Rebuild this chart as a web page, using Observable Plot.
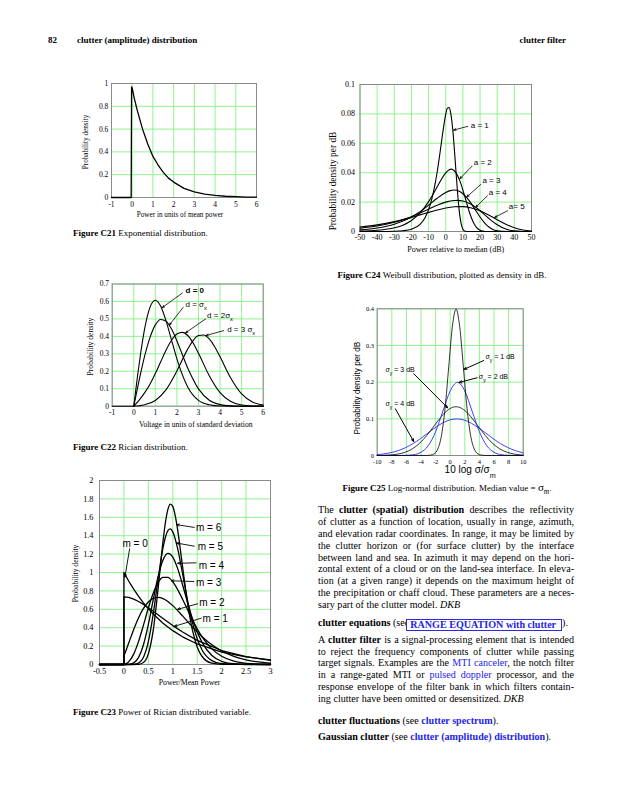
<!DOCTYPE html>
<html><head><meta charset="utf-8">
<script src="https://cdn.jsdelivr.net/npm/d3@7"></script>
<script src="https://cdn.jsdelivr.net/npm/@observablehq/plot@0.6"></script>
<style>
body{margin:0;background:#fff;}
#page{position:relative;width:617px;height:800px;overflow:hidden;font-family:"Liberation Serif","Times New Roman",serif;color:#000;background:#fff;}
.abs{position:absolute;white-space:nowrap;}
.hdr{font-weight:bold;font-size:9px;line-height:12px;}
.cap{font-size:9px;line-height:11px;}
.ln{position:absolute;left:318px;width:256px;white-space:nowrap;font-size:10.1px;line-height:12px;}
.lk{color:#2424e8;}
.chart{position:absolute;}
.box{display:inline-block;margin-left:-3px;padding:0 5px 0 3px;height:10px;line-height:10px;border:1.5px solid #2a2ae0;background:#fff;color:#2424e8;font-weight:bold;vertical-align:-2px;position:relative;}
</style></head><body><div id="page">

<div class="abs hdr" style="left:48px;top:34px">82</div>
<div class="abs hdr" style="left:77px;top:34px">clutter (amplitude) distribution</div>
<div class="abs hdr" style="right:51px;top:34px">clutter filter</div>

<div class="chart" id="c21" style="left:60px;top:70px"></div>
<div class="chart" id="c24" style="left:320px;top:70px"></div>
<div class="chart" id="c22" style="left:60px;top:270px"></div>
<div class="chart" id="c25" style="left:330px;top:295px"></div>
<div class="chart" id="c23" style="left:50px;top:470px"></div>

<div class="abs cap" style="left:73px;top:228px"><b>Figure C21</b> Exponential distribution.</div>
<div class="abs cap" style="left:442px;top:270px;transform:translateX(-50%)"><b>Figure C24</b> Weibull distribution, plotted as density in dB.</div>
<div class="abs cap" style="left:73px;top:441.5px"><b>Figure C22</b> Rician distribution.</div>
<div class="abs cap" style="left:447px;top:482px;transform:translateX(-50%)"><b>Figure C25</b> Log-normal distribution. Median value = <span style="font-size:11px">σ<sub style="font-size:7.5px;font-style:italic">m</sub></span>.</div>
<div class="abs cap" style="left:73px;top:706.5px"><b>Figure C23</b> Power of Rician distributed variable.</div>

<div class="ln j" style="top:504px"><span>The <b>clutter (spatial) distribution</b> describes the reflectivity</span></div>
<div class="ln j" style="top:516px"><span>of clutter as a function of location, usually in range, azimuth,</span></div>
<div class="ln j" style="top:528px"><span>and elevation radar coordinates. In range, it may be limited by</span></div>
<div class="ln j" style="top:540px"><span>the clutter horizon or (for surface clutter) by the interface</span></div>
<div class="ln j" style="top:552px"><span>between land and sea. In azimuth it may depend on the hori-</span></div>
<div class="ln j" style="top:563px"><span>zontal extent of a cloud or on the land-sea interface. In eleva-</span></div>
<div class="ln j" style="top:575px"><span>tion (at a given range) it depends on the maximum height of</span></div>
<div class="ln j" style="top:587px"><span>the precipitation or chaff cloud. These parameters are a neces-</span></div>
<div class="ln" style="top:599px"><span>sary part of the clutter model. <i>DKB</i></span></div>
<div class="ln" style="top:617px"><span><b>clutter equations</b> (see<span class="box">RANGE EQUATION with clutter</span>).</span></div>
<div class="ln j" style="top:634px"><span>A <b>clutter filter</b> is a signal-processing element that is intended</span></div>
<div class="ln j" style="top:646px"><span>to reject the frequency components of clutter while passing</span></div>
<div class="ln j" style="top:657px"><span>target signals. Examples are the <span class="lk">MTI canceler</span>, the notch filter</span></div>
<div class="ln j" style="top:669px"><span>in a range-gated MTI or <span class="lk">pulsed doppler</span> processor, and the</span></div>
<div class="ln j" style="top:681px"><span>response envelope of the filter bank in which filters contain-</span></div>
<div class="ln" style="top:693px"><span>ing clutter have been omitted or desensitized. <i>DKB</i></span></div>
<div class="ln" style="top:715px"><span><b>clutter fluctuations</b> (see <b class="lk">clutter spectrum</b>).</span></div>
<div class="ln" style="top:731px"><span><b>Gaussian clutter</b> (see <b class="lk">clutter (amplitude) distribution</b>).</span></div>

</div>
<script>
// ---------- Figure C21: exponential ----------
const c21X = [-1, -0.05, -0.03, 0, 0.1, 0.25, 0.5, 0.75, 1, 1.25, 1.5, 1.75, 2, 2.5, 3, 3.5, 4, 4.5, 5, 5.5, 6];
const c21Y = [0, 0, 0.97, 0.96, 0.87, 0.76, 0.6, 0.47, 0.36, 0.285, 0.22, 0.17, 0.135, 0.08, 0.05, 0.03, 0.018, 0.011, 0.007, 0.004, 0.003];
const c21XTicks = [-1, 0, 1, 2, 3, 4, 5, 6];
const c21YTicks = [0, 0.2, 0.4, 0.6, 0.8, 1];

// ---------- Figure C24: Weibull in dB ----------
const w1X = [-50,-40,-30,-25,-20,-15,-12,-10,-8,-6,-5,-4,-3,-2,-1,0,1,2,3,4,5,6,7,8,9,10,11,12,14,20,30,40,50];
const w1Y = [0,0.00002,0.00016,0.0005,0.0016,0.0049,0.0096,0.0149,0.0227,0.0337,0.0405,0.0482,0.0565,0.065,0.0731,0.0798,0.084,0.0843,0.0799,0.0703,0.0564,0.0402,0.0248,0.0127,0.0052,0.0016,0.0003,0.00004,0,0,0,0,0];
const w2X = [-50,-40,-30,-25,-20,-15,-10,-8,-6,-4,-2,0,2,3.3,4,6,8,10,12,14,16,18,20,22,24,30,40,50];
const w2Y = [0.00025,0.0008,0.0025,0.0043,0.0075,0.0126,0.0203,0.0241,0.0283,0.0325,0.0366,0.0399,0.042,0.0424,0.0422,0.0399,0.0351,0.0282,0.0201,0.0124,0.0064,0.0026,0.0008,0.0002,0,0,0,0];
const w3X = [-50,-40,-30,-25,-20,-15,-10,-5,0,2.5,5,7.5,10,12.5,15,17.5,20,22.5,25,27.5,30,33,36,40,50];
const w3Y = [0.0011,0.0024,0.005,0.0071,0.0099,0.0135,0.0179,0.0226,0.0266,0.0278,0.0282,0.0276,0.0257,0.0227,0.0188,0.0143,0.0099,0.0061,0.0032,0.0014,0.0005,0.0001,0,0,0];
const w4X = [-50,-40,-30,-25,-20,-15,-10,-5,0,5,7,10,15,20,25,30,35,40,45,50];
const w4Y = [0.0022,0.0037,0.0063,0.008,0.0101,0.0126,0.0152,0.0178,0.02,0.0211,0.0212,0.0207,0.0183,0.0141,0.009,0.0046,0.0017,0.0004,0.00005,0];
const w5X = [-50,-40,-30,-25,-20,-15,-10,-5,0,5,8,10,15,20,25,30,35,40,45,50];
const w5Y = [0.003,0.0045,0.0067,0.0081,0.0096,0.0113,0.013,0.0146,0.016,0.0168,0.0169,0.0169,0.016,0.0141,0.0113,0.008,0.005,0.0025,0.001,0.0003];
const c24XTicks = [-50,-40,-30,-20,-10,0,10,20,30,40,50];
const c24YTicks = [0, 0.02, 0.04, 0.06, 0.08, 0.1];
const c24Labels = ["a = 1", "a = 2", "a = 3", "a = 4", "a= 5"];
const c24LabelX = [14.6, 16.3, 21.4, 25.1, 36.8];
const c24LabelY = [0.072, 0.047, 0.035, 0.0266, 0.0168];
const c24ArrowFrom = [[12.8, 0.0715], [15.4, 0.0445], [20.4, 0.032], [24.3, 0.0243], [36, 0.0141]];
const c24ArrowTo = [[4.6, 0.069], [8.3, 0.036], [12.3, 0.0235], [17.5, 0.0165], [28.5, 0.0096]];

// ---------- Figure C22: Rician ----------
const r0X = [-1,0,0.25,0.5,0.75,1,1.25,1.5,1.75,2,2.5,3,3.5,4,5,6];
const r0Y = [0,0,0.242,0.441,0.566,0.607,0.572,0.487,0.379,0.271,0.11,0.033,0.008,0.001,0,0];
const r1X = [-1,0,0.25,0.5,0.75,1,1.25,1.5,1.75,2,2.5,3,3.5,4,4.5,5,6];
const r1Y = [0,0,0.149,0.285,0.393,0.466,0.497,0.486,0.442,0.374,0.219,0.099,0.034,0.009,0.002,0.0003,0];
const r2X = [-1,0,0.25,0.5,0.75,1,1.25,1.5,1.75,2,2.25,2.5,2.75,3,3.5,4,4.5,5,5.5,6];
const r2Y = [0,0,0.035,0.076,0.126,0.187,0.255,0.322,0.378,0.414,0.423,0.405,0.362,0.303,0.175,0.078,0.027,0.007,0.0015,0.0002];
const r3X = [-1,0,0.25,0.5,1,1.5,2,2.5,2.75,3,3.25,3.5,3.75,4,4.5,5,5.5,6];
const r3Y = [0,0,0.003,0.008,0.033,0.095,0.202,0.327,0.376,0.405,0.408,0.385,0.341,0.283,0.16,0.07,0.024,0.006];
const c22XTicks = [-1,0,1,2,3,4,5,6];
const c22YTicks = [0,0.1,0.2,0.3,0.4,0.5,0.6,0.7];
const c22Labels = ["d = 0", "d = σ_x", "d = 2σ_x", "d = 3 σ_x"];
const c22LabelX = [2.40, 2.40, 3.40, 4.33];
const c22LabelY = [0.665, 0.581, 0.518, 0.442];
const c22ArrowFrom = [[2.25, 0.648], [2.29, 0.566], [3.33, 0.50], [4.17, 0.433]];
const c22ArrowTo = [[1.32, 0.565], [1.65, 0.465], [2.4, 0.42], [3.35, 0.405]];

// ---------- Figure C25: log-normal ----------
const g1X = [-10,-3.2,-2.7,-2.2,-1.7,-1.2,-0.7,-0.2,0.3,0.8,1.3,1.8,2.3,2.8,3.3,3.8,4.3,4.8,10];
const g1Y = [0,0.0001,0.0009,0.0044,0.0175,0.054,0.1295,0.242,0.352,0.399,0.352,0.242,0.1295,0.054,0.0175,0.0044,0.0009,0.0001,0];
const g2X = [-10,-7,-6,-5,-4,-3,-2,-1,0,1,2,3,4,5,6,7,8,9,10];
const g2Y = [0,0.00007,0.00044,0.0022,0.0088,0.027,0.0648,0.121,0.176,0.1995,0.176,0.121,0.0648,0.027,0.0088,0.0022,0.00044,0.00007,0];
const g3X = [-10,-9.2,-8.2,-7.2,-6.2,-5.2,-4.2,-3.2,-2.2,-1.2,-0.2,0.8,1.8,2.8,3.8,4.8,5.8,6.8,7.8,8.8,9.8,10];
const g3Y = [0.0002,0.0005,0.0015,0.0038,0.0087,0.018,0.0332,0.0547,0.0807,0.1065,0.1258,0.133,0.1258,0.1065,0.0807,0.0547,0.0332,0.018,0.0087,0.0038,0.0015,0.0012];
const g4X = [-10,-9.1,-8.1,-7.1,-6.1,-5.1,-4.1,-3.1,-2.1,-1.1,-0.1,0.9,1.9,2.9,3.9,4.9,5.9,6.9,7.9,8.9,9.9,10];
const g4Y = [0.0024,0.0044,0.0079,0.0135,0.0216,0.0324,0.0457,0.0605,0.0753,0.088,0.0967,0.0997,0.0967,0.088,0.0753,0.0605,0.0457,0.0324,0.0216,0.0135,0.0079,0.0076];
const c25XTicks = [-10,-8,-6,-4,-2,0,2,4,6,8,10];
const c25YTicks = [0,0.1,0.2,0.3,0.4];
const c25Labels = ["σ_y = 1 dB", "σ_y = 2 dB", "σ_y = 3 dB", "σ_y = 4 dB"];
const c25LabelX = [4.84, 3.92, -8.86, -8.86];
const c25LabelY = [0.27, 0.215, 0.234, 0.141];
const c25ArrowFrom = [[4.6, 0.259], [3.7, 0.212], [-5.0, 0.223], [-7.5, 0.127]];
const c25ArrowTo = [[1.9, 0.235], [1.2, 0.199], [-0.35, 0.13], [-5.0, 0.038]];

// ---------- Figure C23: power of Rician variable ----------
const m0X = [-0.5,0,0,0.1,0.2,0.3,0.4,0.5,0.6,0.8,1,1.2,1.5,2,2.5,3];
const m0Y = [0,0,1,0.905,0.819,0.741,0.670,0.607,0.549,0.449,0.368,0.301,0.223,0.135,0.082,0.05];
const m1X = [-0.5,0,0,0.1,0.2,0.3,0.4,0.5,0.6,0.8,1,1.2,1.5,2,2.5,3];
const m1Y = [0,0,0.736,0.729,0.711,0.685,0.653,0.617,0.579,0.5,0.423,0.353,0.262,0.152,0.085,0.045];
const m2X = [-0.5,0,0,0.05,0.1,0.2,0.3,0.4,0.5,0.6,0.7,0.8,0.9,1,1.2,1.4,1.6,1.8,2,2.25,2.5,2.75,3];
const m2Y = [0,0,0.092,0.163,0.236,0.381,0.509,0.610,0.680,0.719,0.730,0.717,0.685,0.640,0.528,0.409,0.302,0.214,0.147,0.088,0.051,0.028,0.015];
const m3X = [-0.5,0,0.05,0.1,0.2,0.3,0.4,0.5,0.6,0.7,0.8,0.9,1,1.1,1.2,1.3,1.4,1.5,1.6,1.8,2,2.25,2.5,3];
const m3Y = [0,0.001,0.010,0.031,0.113,0.251,0.428,0.614,0.775,0.891,0.947,0.947,0.898,0.814,0.710,0.598,0.488,0.389,0.301,0.170,0.089,0.036,0.013,0.0015];
const m4X = [-0.5,0,0.1,0.2,0.3,0.4,0.5,0.6,0.7,0.8,0.9,1,1.1,1.2,1.3,1.4,1.5,1.6,1.8,2,2.25,2.5,3];
const m4Y = [0,0,0.0015,0.017,0.077,0.215,0.435,0.704,0.958,1.137,1.208,1.167,1.042,0.867,0.679,0.503,0.356,0.241,0.098,0.035,0.008,0.0016,0];
const m5X = [-0.5,0,0.2,0.3,0.4,0.5,0.6,0.7,0.8,0.9,0.95,1,1.1,1.2,1.3,1.4,1.5,1.6,1.8,2,2.5,3];
const m5Y = [0,0,0.0013,0.015,0.079,0.248,0.550,0.929,1.270,1.456,1.474,1.442,1.259,0.987,0.703,0.460,0.279,0.158,0.042,0.009,0.0001,0];
const m6X = [-0.5,0,0.3,0.4,0.5,0.6,0.7,0.8,0.85,0.9,0.95,1,1.05,1.1,1.2,1.3,1.4,1.5,1.6,1.8,2,3];
const m6Y = [0,0,0.002,0.021,0.115,0.374,0.825,1.339,1.546,1.686,1.744,1.719,1.619,1.463,1.065,0.676,0.379,0.191,0.087,0.014,0.002,0];
const c23XTicks = [-0.5,0,0.5,1,1.5,2,2.5,3];
const c23YTicks = [0,0.2,0.4,0.6,0.8,1,1.2,1.4,1.6,1.8,2];
const c23Labels = ["m = 6", "m = 5", "m = 4", "m = 3", "m = 2", "m = 1", "m = 0"];
const c23LabelX = [1.475, 1.51, 1.53, 1.475, 1.54, 1.61, -0.03];
const c23LabelY = [1.486, 1.275, 1.076, 0.888, 0.67, 0.497, 1.31];
const c23ArrowFrom = [[1.44, 1.49], [1.44, 1.286], [1.475, 1.105], [1.43, 0.902], [1.51, 0.66], [1.58, 0.503], [0.117, 1.258]];
const c23ArrowTo = [[1.08, 1.52], [1.08, 1.32], [1.1, 1.1], [0.97, 0.91], [1.1, 0.6], [1.03, 0.415], [0.02, 0.95]];

// ---------- helpers ----------
const GRID = "#74f074", FRAME = "#8a8a8a";
const SERIF = "'Liberation Serif','Times New Roman',serif";
const SANS = "'Liberation Sans',Arial,sans-serif";
const pts = (xs, ys) => xs.map((x, i) => ({x, y: ys[i]}));
const arrows = (from, to) => from.map((f, i) => ({x1: f[0], y1: f[1], x2: to[i][0], y2: to[i][1]}));
const labels = (t, xs, ys) => t.map((s, i) => ({t: s, x: xs[i], y: ys[i]}));
const plain = d => String(d);

function fixSubscripts(svg) {
  const ns = "http://www.w3.org/2000/svg";
  svg.querySelectorAll("text").forEach(t => {
    if (t.querySelector("tspan")) return;
    const s = t.textContent;
    if (!s.includes("_")) return;
    t.textContent = "";
    s.split(/_(\w)/).forEach((p, i) => {
      if (!p) return;
      const ts = document.createElementNS(ns, "tspan");
      ts.textContent = p;
      if (i % 2 === 1) { ts.setAttribute("font-size", "72%"); ts.setAttribute("baseline-shift", "sub"); }
      t.appendChild(ts);
    });
  });
}

function chart(id, o) {
  const svg = Plot.plot({
    width: o.w, height: o.h,
    marginLeft: o.ml, marginRight: o.mr, marginTop: o.mt, marginBottom: o.mb,
    style: {fontFamily: SERIF, fontSize: o.fs + "px", background: "transparent", color: "#000", overflow: "visible"},
    x: {domain: o.xd, ticks: o.xt, tickSize: 0, tickPadding: o.xp ?? 3.8, label: null, tickFormat: plain},
    y: {domain: o.yd, ticks: o.yt, tickSize: 0, tickPadding: o.yp ?? 3.2, label: null, tickFormat: plain},
    marks: [
      Plot.ruleX(o.xt, {stroke: GRID, strokeWidth: 0.8}),
      Plot.ruleY(o.yt, {stroke: GRID, strokeWidth: 0.8}),
      Plot.frame({stroke: FRAME, strokeWidth: 1}),
      ...o.marks,
      Plot.text([o.xl], {frameAnchor: "bottom", textAnchor: "middle", text: d => d, dx: o.xlx, dy: o.xly, fontSize: o.xfs, fontFamily: o.lff || SERIF}),
      Plot.text([o.yl], {frameAnchor: "left", textAnchor: "middle", text: d => d, rotate: -90, dx: o.ylx, dy: o.yly, fontSize: o.yfs, fontFamily: o.lff || SERIF})
    ]
  });
  document.getElementById(id).appendChild(svg);
  fixSubscripts(svg);
}

const lineMark = (xs, ys, sw, color) => Plot.line(pts(xs, ys), {x: "x", y: "y", stroke: color || "#000", strokeWidth: sw, curve: "monotone-x"});
const linearMark = (xs, ys, sw, color) => Plot.line(pts(xs, ys), {x: "x", y: "y", stroke: color || "#000", strokeWidth: sw});
const arrowMark = (from, to, sw) => Plot.arrow(arrows(from, to), {x1: "x1", y1: "y1", x2: "x2", y2: "y2", stroke: "#000", strokeWidth: sw, headLength: 4.5, headAngle: 45});
const labelMark = (t, xs, ys, fs, extra) => Plot.text(labels(t, xs, ys), {x: "x", y: "y", text: "t", textAnchor: "start", fontFamily: SANS, fontSize: fs, ...(extra || {})});

// C21
chart("c21", {
  w: 210, h: 160, ml: 51, mr: 14, mt: 13, mb: 33, fs: 7.5, xfs: 7.2, yfs: 7.2,
  xd: [-1, 6], yd: [0, 1], xt: c21XTicks, yt: c21YTicks,
  xl: "Power in units of mean power", xlx: -4, xly: 19,
  yl: "Probability density", ylx: -26, yly: 1.5,
  marks: [linearMark(c21X, c21Y, 1.3)]
});

// C24
chart("c24", {
  w: 225, h: 190, ml: 39.5, mr: 14, mt: 14, mb: 29, fs: 8, xfs: 8, yfs: 9.4, xp: 3, yp: 5,
  xd: [-50, 50], yd: [0, 0.1], xt: c24XTicks, yt: c24YTicks,
  xl: "Power relative to median (dB)", xlx: 10, xly: 20.5,
  yl: "Probability density per dB", ylx: -27, yly: 23,
  marks: [
    lineMark(w1X, w1Y, 1.1), lineMark(w2X, w2Y, 1.1), lineMark(w3X, w3Y, 1.1), lineMark(w4X, w4Y, 1.1), lineMark(w5X, w5Y, 1.1),
    arrowMark(c24ArrowFrom, c24ArrowTo, 0.8),
    labelMark(c24Labels, c24LabelX, c24LabelY, 8)
  ]
});

// C22
chart("c22", {
  w: 215, h: 170, ml: 51.7, mr: 12.3, mt: 13.5, mb: 34.3, fs: 7.5, xfs: 7.6, yfs: 7.6,
  xd: [-1, 6], yd: [0, 0.7], xt: c22XTicks, yt: c22YTicks,
  xl: "Voltage in units of standard deviation", xlx: 8, xly: 21,
  yl: "Probability density", ylx: -21.5, yly: 1.5,
  marks: [
    linearMark([-1, 0], [0, 0], 1.1),
    lineMark(r0X.slice(1), r0Y.slice(1), 1.1), lineMark(r1X.slice(1), r1Y.slice(1), 1.1),
    lineMark(r2X.slice(1), r2Y.slice(1), 1.1), lineMark(r3X.slice(1), r3Y.slice(1), 1.1),
    arrowMark(c22ArrowFrom, c22ArrowTo, 0.8),
    labelMark(c22Labels.slice(0, 1), c22LabelX.slice(0, 1), c22LabelY.slice(0, 1), 8, {fontWeight: "bold"}),
    labelMark(c22Labels.slice(1), c22LabelX.slice(1), c22LabelY.slice(1), 8)
  ]
});

// C25
chart("c25", {
  w: 210, h: 185, ml: 46.7, mr: 17.3, mt: 13.3, mb: 25, fs: 6.5, xfs: 10, yfs: 8.2, lff: SANS,
  xd: [-10, 10], yd: [0, 0.4], xt: c25XTicks, yt: c25YTicks,
  xl: "10 log σ/σ_m", xlx: 20, xly: 17.5,
  yl: "Probability density per dB", ylx: -20, yly: 6,
  marks: [
    lineMark(g4X, g4Y, 0.9, "#2b2bf0"), lineMark(g3X, g3Y, 0.8), lineMark(g2X, g2Y, 0.9, "#2b2bf0"), lineMark(g1X, g1Y, 0.8),
    arrowMark(c25ArrowFrom, c25ArrowTo, 1),
    labelMark(c25Labels, c25LabelX, c25LabelY, 7)
  ]
});

// C23
chart("c23", {
  w: 235, h: 225, ml: 49, mr: 15, mt: 10, mb: 31, fs: 8.3, xfs: 7.8, yfs: 7.6, xp: 4, yp: 6,
  xd: [-0.5, 3], yd: [0, 2], xt: c23XTicks, yt: c23YTicks,
  xl: "Power/Mean Power", xlx: 4.5, xly: 20,
  yl: "Probability density", ylx: -24, yly: 1,
  marks: [
    linearMark(m0X, m0Y, 1.3), linearMark(m1X, m1Y, 1.3),
    lineMark(m2X.slice(2), m2Y.slice(2), 1.3), linearMark(m2X.slice(0, 3), m2Y.slice(0, 3), 1.3),
    lineMark(m3X, m3Y, 1.3), lineMark(m4X, m4Y, 1.3), lineMark(m5X, m5Y, 1.3), lineMark(m6X, m6Y, 1.3),
    arrowMark(c23ArrowFrom, c23ArrowTo, 0.9),
    labelMark(c23Labels, c23LabelX, c23LabelY, 10)
  ]
});

// justify body text lines
document.querySelectorAll(".ln.j").forEach(el => {
  const span = el.firstElementChild;
  const w = span.getBoundingClientRect().width;
  const n = (span.textContent.match(/ /g) || []).length;
  if (n > 0) el.style.wordSpacing = ((256 - w) / n) + "px";
});
</script>
</body></html>
